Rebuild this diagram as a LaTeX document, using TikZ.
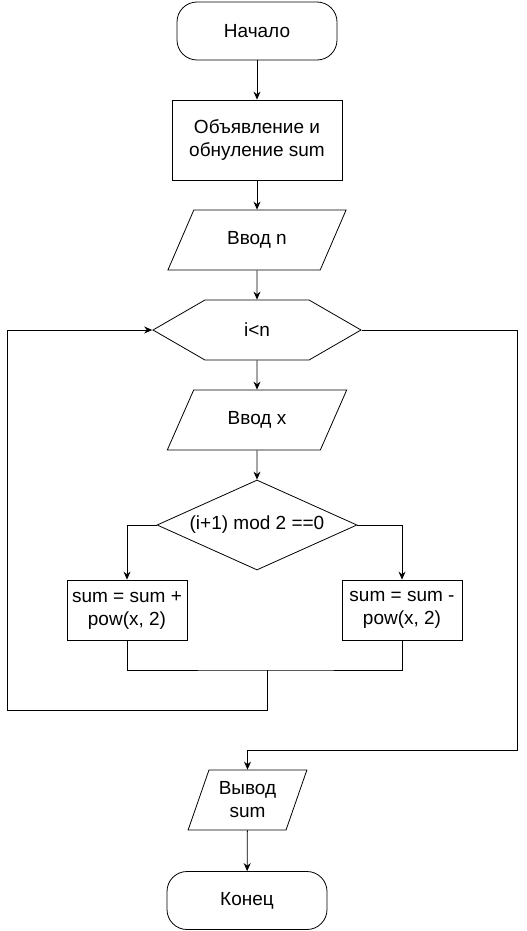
\documentclass[tikz,border=0pt]{standalone}
\usepackage{fontspec}
\setmainfont{Liberation Sans}
\usetikzlibrary{shapes.geometric,shapes.symbols,arrows.meta}
\begin{document}
\begin{tikzpicture}[x=1pt,y=-1pt,
  every node/.style={font=\fontsize{19}{23}\selectfont, align=center, draw=black, line width=0.8pt},
  term/.style={rectangle, rounded corners=20pt, minimum width=160pt, minimum height=58pt},
  proc/.style={rectangle, minimum width=170pt, minimum height=80pt},
  opbox/.style={rectangle, minimum width=120pt, minimum height=60pt, inner sep=1pt},
  io/.style={trapezium, trapezium left angle=60, trapezium right angle=120, trapezium stretches=true, minimum width=180pt, minimum height=60pt},
  loopcond/.style={signal, signal to=west and east, signal pointer angle=60, minimum width=208pt, minimum height=60pt},
  ifcond/.style={diamond, aspect=2.22, inner sep=0pt, minimum width=200pt, minimum height=90pt},
  conn/.style={draw=black, line width=0.8pt, -{Stealth[length=8pt,width=7pt]}},
  wire/.style={draw=black, line width=0.8pt}]
\useasboundingbox (0,0) rectangle (527,931);
\node [term] (start) at (257,31) {Начало};
\node [proc] (decl) at (257,140) {Объявление и\\обнуление sum};
\node [io] (inn) at (257,240) {Ввод n};
\node [loopcond] (cond) at (257,330) {i<n};
\node [io] (inx) at (257,420) {Ввод x};
\node [ifcond] (parity) at (257,525) {(i+1) mod 2 ==0};
\node [opbox] (plus) at (127,610) {sum = sum +\\pow(x, 2)};
\node [opbox] (minus) at (402,610) {sum = sum -\\pow(x, 2)};
\node [io, trapezium left angle=68, trapezium right angle=112, minimum width=119pt] (outs) at (247.5,800) {Вывод\\sum};
\node [term] (stop) at (247,900.5) {Конец};
\coordinate (jn) at (267,670);
\coordinate (lp) at (7,710);
\coordinate (rp) at (517,750);
\draw [conn] (start) -- (decl);
\draw [conn] (decl) -- (inn);
\draw [conn] (inn) -- (cond);
\draw [conn] (cond) -- (inx);
\draw [conn] (inx) -- (parity);
\draw [conn] (parity.west) -| (plus.north);
\draw [conn] (parity.east) -| (minus.north);
\draw [wire] (plus.south) |- (jn) -| (minus.south);
\draw [conn] (jn) |- (lp) |- (cond.west);
\draw [conn] (cond.east) -| (rp) -| (outs.north);
\draw [conn] (outs) -- (stop);
\end{tikzpicture}
\end{document}
